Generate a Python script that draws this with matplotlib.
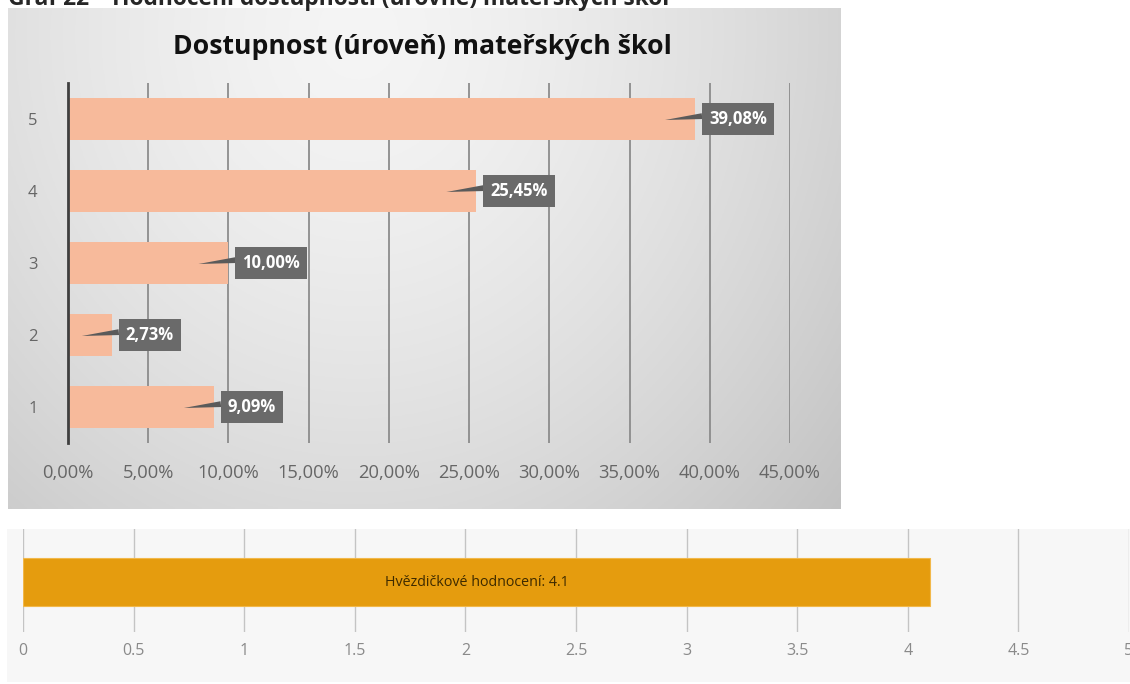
import numpy as np
import matplotlib
matplotlib.use("Agg")
import matplotlib.pyplot as plt
import matplotlib.transforms as mtransforms

### Data
### ----
caption = "Graf 22 – Hodnocení dostupnosti (úrovně) mateřských škol"
title = "Dostupnost (úroveň) mateřských škol"
levels = ["1", "2", "3", "4", "5"]
shares = [9.09, 2.73, 10.00, 25.45, 39.08]       # [%]
pct_ticks = [0, 5, 10, 15, 20, 25, 30, 35, 40, 45]

rating_name = "Hvězdičkové hodnocení"
rating = 4.1
rating_ticks = [0, 0.5, 1, 1.5, 2, 2.5, 3, 3.5, 4, 4.5, 5]

W, H = 1130, 684
FONT = ["Open Sans", "DejaVu Sans"]


def fx(px):
    return px / W


def fy(px):
    return 1 - px / H


def pct(v):
    return f"{v:.2f}%".replace(".", ",")


fig = plt.figure(figsize=(W / 100, H / 100), dpi=100)
fig.patch.set_facecolor("white")

### Cut-off caption above the picture
fig.text(fx(8), fy(5), caption, fontsize=16.4, fontweight="bold",
         color="#262626", family=FONT, va="baseline", ha="left")

### Grey gradient panel behind the first chart
### -------------------------------------------
bg = fig.add_axes([fx(8), fy(509), fx(841 - 8), (509 - 8) / H], zorder=0)
gx, gy = np.meshgrid(np.linspace(0, 1, 300), np.linspace(0, 1, 200))
r = np.sqrt(((gx - 0.42) / 0.75) ** 2 + ((gy - 0.05) / 1.4) ** 2)
shade = np.clip(0.96 - 0.19 * r ** 1.5, 0.76, 1)
bg.imshow(np.dstack([shade] * 3), aspect="auto", extent=(0, 1, 1, 0))
bg.set_axis_off()

### Bar chart
### ---------
ax = fig.add_axes([fx(68), fy(443), fx(790 - 68), (443 - 83) / H], zorder=1)
ax.patch.set_alpha(0)
y = np.arange(1, len(levels) + 1)
ax.barh(y, shares, height=0.57, color="#F7BA9B", zorder=2)
ax.set_xlim(0, 45)
ax.set_ylim(0.5, 5.5)
ax.set_xticks(pct_ticks)
ax.set_xticklabels([pct(t) for t in pct_ticks])
ax.set_yticks(y)
ax.set_yticklabels(levels)
ax.tick_params(length=0, labelcolor="#666666")
ax.tick_params(axis="x", pad=15, labelsize=13.2)
ax.tick_params(axis="y", pad=22, labelsize=12)
for lab in ax.get_xticklabels() + ax.get_yticklabels():
    lab.set_family(FONT)
ax.grid(axis="x", color="#8c8c8c", lw=1.3, zorder=1)
for s in ["top", "right", "bottom"]:
    ax.spines[s].set_visible(False)
ax.spines["left"].set_color("#3f3f3f")
ax.spines["left"].set_linewidth(2)
ax.spines["left"].set_zorder(3)

fig.text(fx(422), fy(47), title, fontsize=19.2, fontweight="bold",
         color="#111111", family=FONT, ha="center", va="center")

### Callout labels
tip = mtransforms.offset_copy(ax.transData, fig=fig, x=-30, y=-1, units="dots")
for yi, v in zip(y, shares):
    ax.annotate(pct(v), xy=(v, yi), xycoords=tip,
                xytext=(44, 1), textcoords="offset pixels",
                ha="left", va="center", color="white", fontsize=12,
                fontweight="bold", family=FONT, zorder=5,
                bbox=dict(boxstyle="square,pad=0.42", fc="#6a6a6a", ec="none"),
                arrowprops=dict(arrowstyle="wedge,tail_width=0.35", fc="#5a5a5a",
                                ec="none", relpos=(0, 0.7), shrinkA=0, shrinkB=0))

### Star rating bar
### ---------------
bg2 = fig.add_axes([fx(7), fy(682), 1 - fx(7), (682 - 529) / H], zorder=0)
bg2.set_facecolor("#F7F7F7")
bg2.set_xticks([])
bg2.set_yticks([])
for s in bg2.spines.values():
    s.set_visible(False)

ax2 = fig.add_axes([fx(23), fy(632), fx(1129 - 23), (632 - 529) / H], zorder=1)
ax2.patch.set_alpha(0)
ax2.barh([0], [rating], height=0.466, color="#E59C0E", edgecolor="#F2B84A",
         lw=0.8, zorder=2)
ax2.text(rating / 2, 0, f"{rating_name}: {rating}", ha="center", va="center",
         fontsize=10.3, color="#3d2a00", family=FONT, zorder=3)
ax2.set_xlim(0, 5)
ax2.set_ylim(-0.485, 0.515)
ax2.set_xticks(rating_ticks)
ax2.set_xticklabels([f"{t:g}" for t in rating_ticks])
ax2.set_yticks([])
ax2.tick_params(length=0, labelcolor="#8a8a8a", labelsize=11.5, pad=8)
for lab in ax2.get_xticklabels():
    lab.set_family(FONT)
ax2.grid(axis="x", color="#c4c4c4", lw=1, zorder=1)
for s in ax2.spines.values():
    s.set_visible(False)

fig.savefig("out.png", dpi=100)
